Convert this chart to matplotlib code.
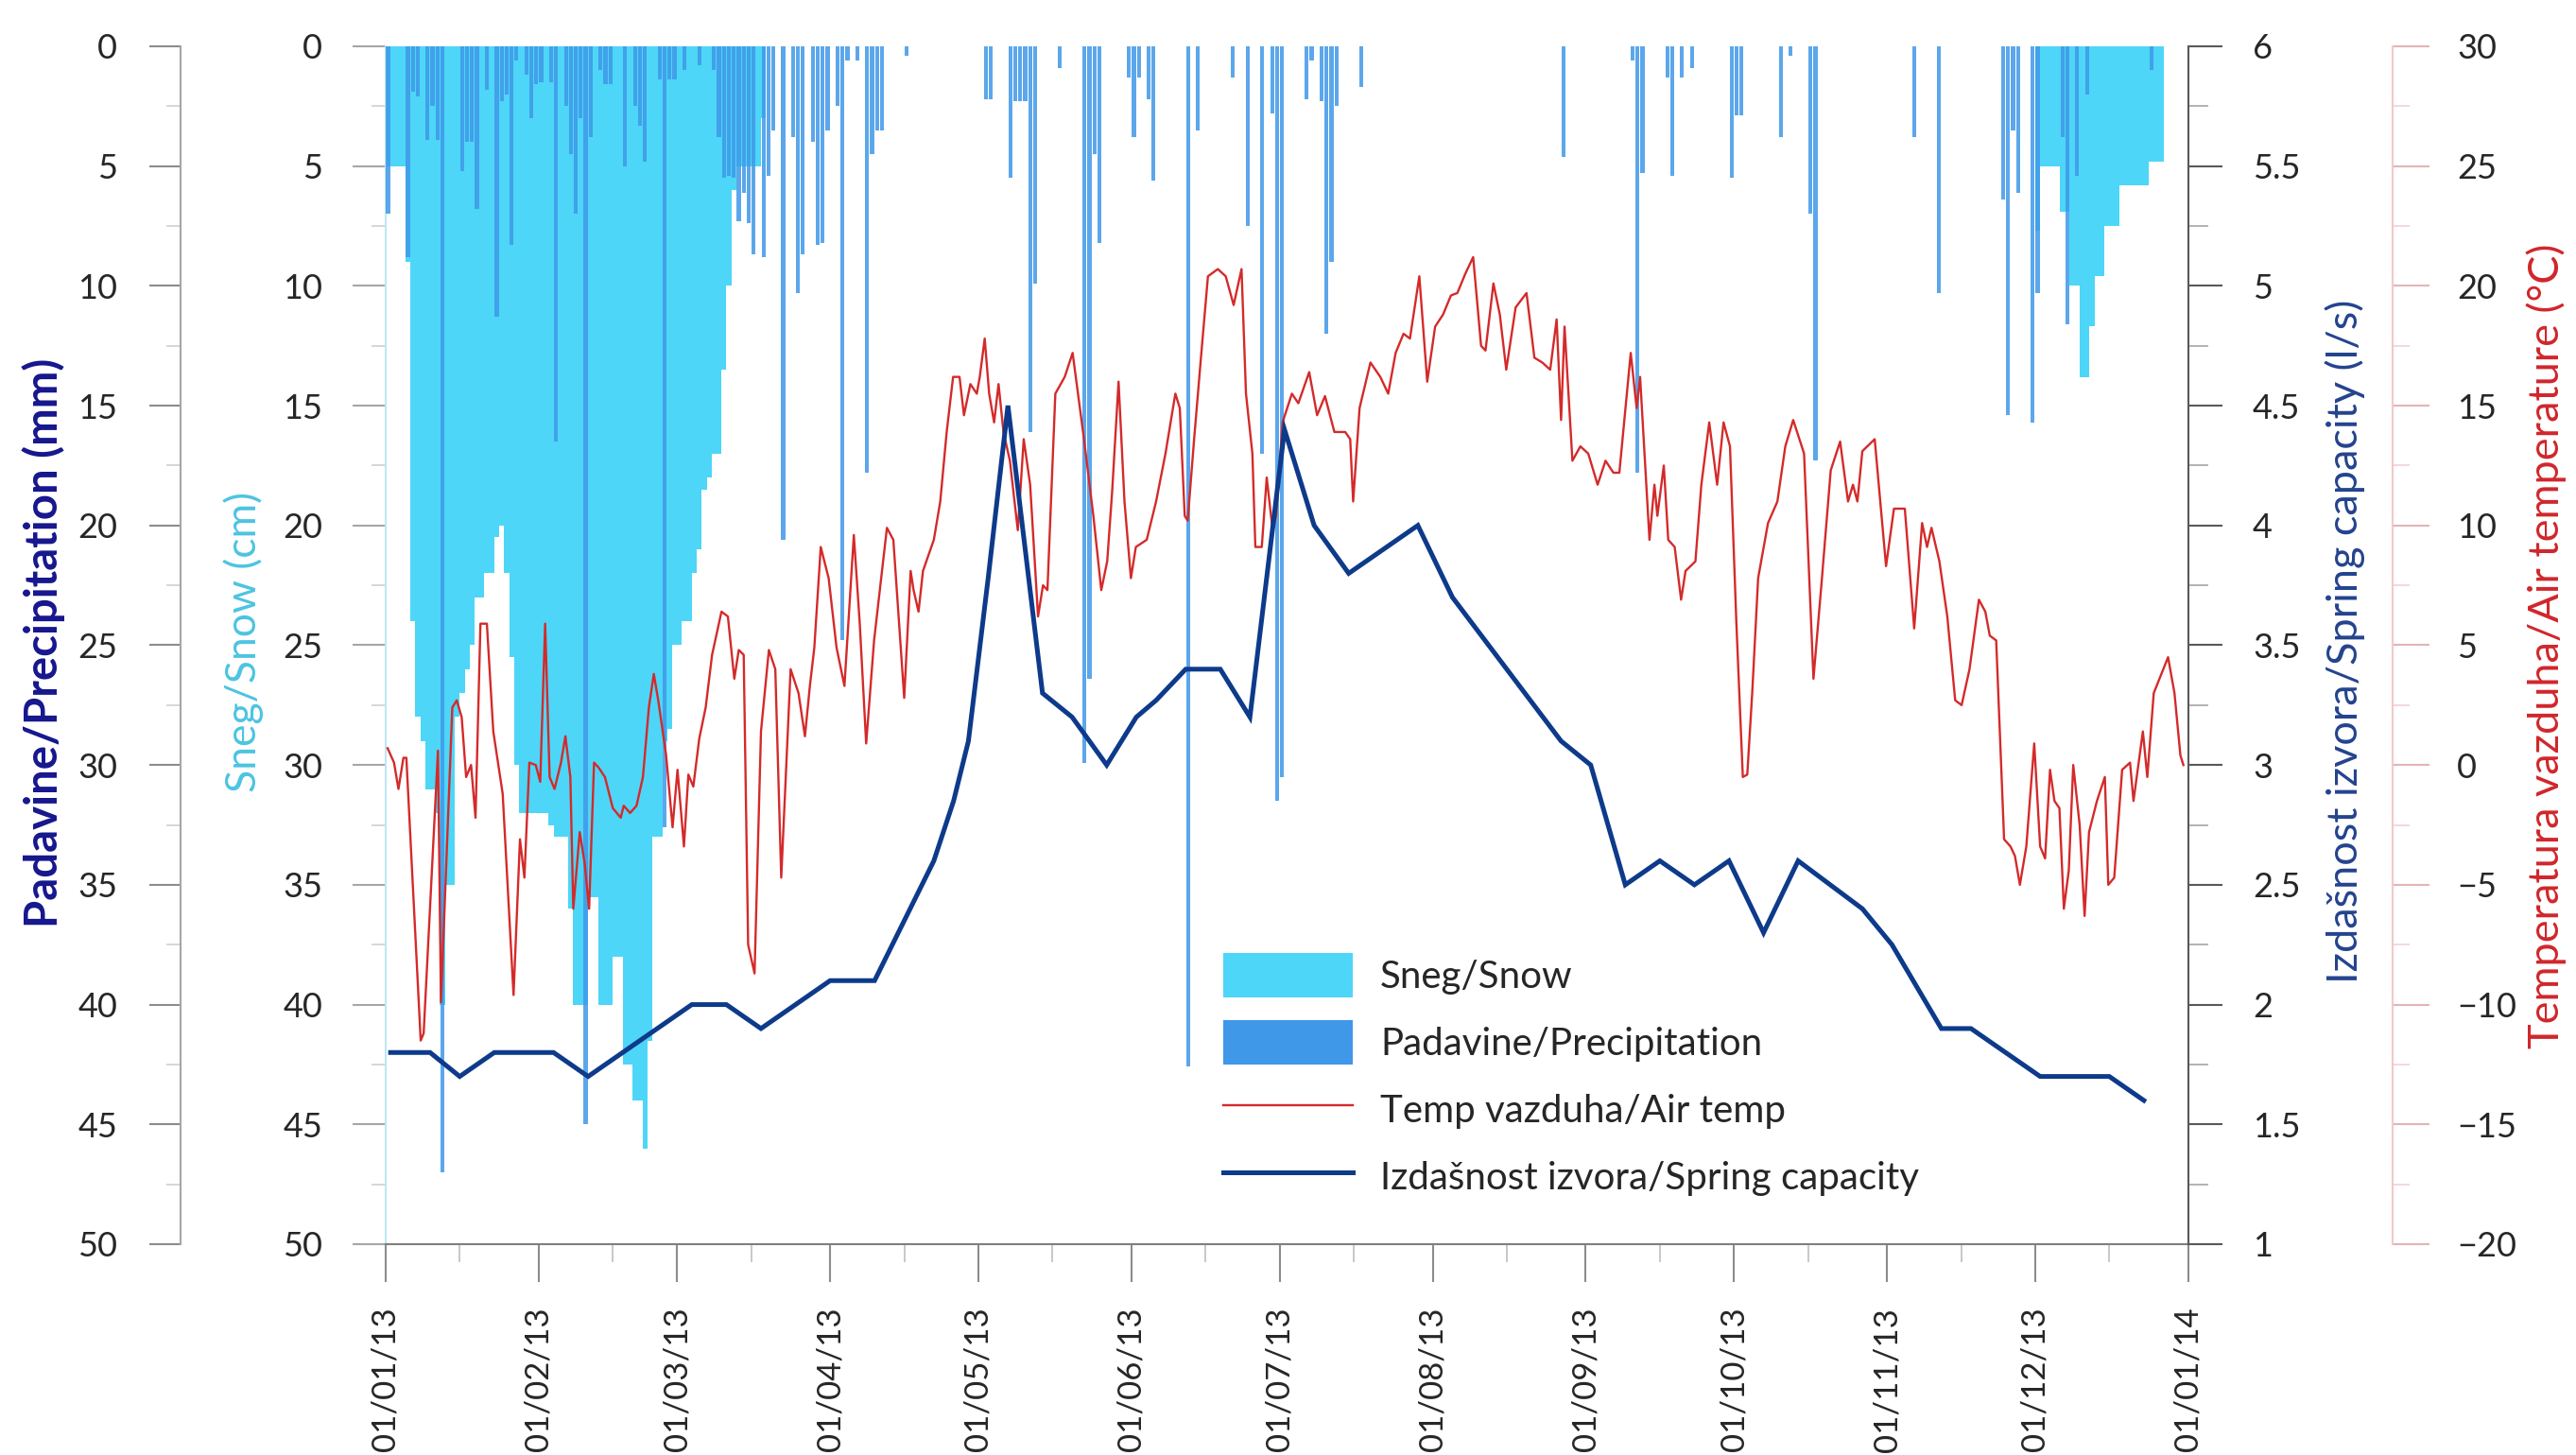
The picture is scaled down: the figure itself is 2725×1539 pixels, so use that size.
import datetime as dt
import matplotlib
matplotlib.use("Agg")
import matplotlib.pyplot as plt
import matplotlib.dates as mdates
from matplotlib.patches import Patch
from matplotlib.lines import Line2D
from matplotlib.ticker import MultipleLocator

plt.rcParams['font.family'] = ['Lato', 'DejaVu Sans']

# ---------------- data (day index 0 = 01/01/2013) ----------------
snow_days = [0, 1, 2, 3, 4, 5, 6, 7, 8, 9, 10, 11, 12, 13, 14, 15, 16, 17, 18, 19,
             20, 21, 22, 23, 24, 25, 26, 27, 28, 29, 30, 31, 32, 33, 34, 35, 36, 37, 38, 39,
             40, 41, 42, 43, 44, 45, 46, 47, 48, 49, 50, 51, 52, 53, 54, 55, 56, 57, 58, 59,
             60, 61, 62, 63, 64, 65, 66, 67, 68, 69, 70, 71, 72, 73, 74, 75, 76,
             334, 335, 336, 337, 338, 339, 340, 341, 342, 343, 344, 345, 346, 347, 348, 349,
             350, 351, 352, 353, 354, 355, 356, 357, 358, 359]
snow_cm = [5, 5, 5, 5, 9, 24, 28, 29, 31, 31, 32, 40, 35, 35, 28, 27, 26, 25, 23, 23,
           22, 22, 20.5, 20, 22, 25.5, 30, 32, 32, 32, 32, 32, 32, 32.5, 33, 33, 33, 36, 40, 40,
           40, 35.5, 35.5, 40, 40, 40, 38, 38, 42.5, 42.5, 44, 44, 46, 41.5, 33, 33, 29, 28.5, 25, 25,
           24, 24, 22, 21, 18.5, 18, 17, 17, 13.5, 10, 6, 5, 5, 5, 5, 5, 3,
           7.7, 5, 5, 5, 5, 6.9, 6.9, 10, 10, 13.8, 13.8, 11.7, 9.6, 9.6, 7.5, 7.5,
           7.5, 5.8, 5.8, 5.8, 5.8, 5.8, 5.8, 4.8, 4.8, 4.8]

precip_days = [0, 4, 5, 6, 8, 9, 10, 11, 15, 16, 17, 18, 20, 22, 23, 24, 25, 26, 28, 29,
               30, 31, 33, 34, 36, 37, 38, 39, 40, 41, 43, 44, 45, 48, 50, 51, 52, 55, 56, 57,
               58, 60, 63, 66, 67, 68, 69, 70, 71, 72, 73, 74, 76, 77, 78, 80, 82, 83, 84, 86,
               87, 88, 89, 91, 92, 93, 95, 97, 98, 99, 100, 105, 121, 122, 126, 127, 128, 129, 130, 131,
               136, 141, 142, 143, 144, 150, 151, 152, 154, 155, 162, 164, 171, 174, 177, 179, 180, 181, 186, 187,
               189, 190, 191, 192, 197, 238, 252, 253, 254, 259, 260, 262, 264, 272, 273, 274, 282, 284, 288, 289,
               309, 314, 327, 328, 329, 330, 333, 334, 339, 340, 342, 344, 357]
precip_mm = [7.0, 8.8, 1.9, 2.1, 3.9, 2.5, 3.9, 47.0, 5.2, 4.0, 4.0, 6.8, 1.8, 11.3, 2.3, 2.0, 8.3, 0.6, 1.2, 3.0,
             1.6, 1.5, 1.5, 16.5, 2.5, 4.5, 7.0, 3.0, 45.0, 3.8, 1.0, 1.6, 1.6, 5.0, 2.5, 3.3, 4.8, 1.4, 32.6, 1.4,
             1.4, 1.0, 0.8, 1.0, 3.8, 5.5, 5.4, 5.5, 7.3, 6.1, 7.4, 8.7, 8.8, 5.4, 3.5, 20.6, 3.8, 10.3, 8.7, 4.0,
             8.3, 8.2, 3.5, 2.5, 24.8, 0.6, 0.6, 17.8, 4.5, 3.5, 3.5, 0.4, 2.2, 2.2, 5.5, 2.3, 2.3, 2.3, 16.1, 9.9,
             0.9, 29.9, 26.4, 4.5, 8.2, 1.3, 3.8, 1.3, 2.2, 5.6, 42.6, 3.5, 1.3, 7.5, 17.0, 2.8, 31.5, 30.5, 2.2, 0.6,
             2.3, 12.0, 9.0, 2.5, 1.7, 4.6, 0.6, 17.8, 5.3, 1.3, 5.4, 1.3, 0.9, 5.5, 2.9, 2.9, 3.8, 0.4, 7.0, 17.3,
             3.8, 10.3, 6.4, 15.4, 3.5, 6.1, 15.7, 10.3, 3.8, 11.6, 5.4, 2.0, 1.0]

temp_days = [0.4, 1.7, 2.6, 3.6, 4.2, 7.1, 7.7, 10.6, 11.2, 13.5, 14.4, 15.4, 16.3, 17.3, 18.2, 19.2,
             20.5, 21.8, 23.7, 25.9, 27.2, 28.1, 29.1, 30.4, 31.3, 32.3, 33.2, 34.2, 35.5, 36.4, 37.4,
             38.0, 39.3, 40.3, 41.2, 42.2, 43.1, 44.4, 46.0, 47.6, 48.2, 49.5, 50.8, 52.1, 53.3, 54.3,
             55.2, 56.8, 58.1, 59.1, 60.4, 61.3, 62.3, 63.5, 64.8, 66.1, 68.0, 69.3, 70.6, 71.5, 72.5,
             73.4, 74.7, 76.0, 77.6, 78.9, 80.1, 82.0, 83.6, 84.9, 85.9, 86.8, 88.1, 89.7, 91.3, 92.9,
             94.8, 96.0, 97.3, 98.9, 101.5, 102.8, 105.0, 106.3, 106.9, 107.9, 108.8, 111.0, 112.3,
             113.6, 114.9, 116.2, 117.1, 118.4, 119.7, 120.3, 121.3, 122.2, 123.2, 124.1, 125.1, 126.4,
             128.0, 129.2, 130.5, 132.1, 133.1, 134.0, 135.6, 137.5, 139.1, 141.4, 143.3, 144.9, 146.1,
             147.1, 148.4, 149.6, 150.9, 151.9, 154.1, 156.0, 157.9, 159.9, 160.8, 161.8, 162.4, 163.7,
             165.0, 166.5, 168.5, 170.1, 171.7, 173.3, 174.2, 175.5, 176.1, 177.4, 178.4, 179.6, 180.3,
             181.6, 183.5, 184.8, 187.0, 188.6, 190.2, 192.1, 194.3, 195.3, 195.9, 197.2, 199.4, 201.4,
             203.0, 204.5, 206.1, 207.4, 209.3, 210.9, 212.5, 214.1, 215.7, 217.0, 218.6, 220.2, 221.8,
             222.7, 224.3, 225.6, 226.9, 228.8, 231.0, 232.6, 234.2, 235.8, 237.1, 238.0, 238.7, 240.3,
             241.9, 243.5, 245.4, 247.0, 248.6, 249.8, 252.1, 253.3, 254.0, 254.9, 255.9, 256.9, 257.5,
             258.8, 259.7, 261.0, 262.3, 263.2, 265.2, 266.4, 268.0, 269.6, 270.9, 272.2, 273.5, 274.8,
             275.7, 276.7, 277.9, 279.9, 281.8, 283.4, 285.0, 287.2, 289.1, 290.7, 292.6, 294.5, 296.1,
             297.1, 298.0, 299.0, 301.5, 303.8, 305.4, 307.6, 309.5, 311.1, 312.1, 313.0, 314.6, 316.2,
             317.8, 319.1, 320.7, 322.6, 323.9, 324.8, 326.1, 327.7, 329.0, 329.9, 330.9, 332.2, 333.8,
             335.0, 336.0, 337.0, 337.9, 338.9, 339.8, 340.8, 341.7, 343.0, 344.0, 344.9, 346.5, 348.1,
             348.8, 350.0, 351.6, 353.2, 353.9, 355.8, 356.7, 358.0, 360.9, 362.2, 363.4, 364.0]
temp_c = [0.7, 0.1, -1.0, 0.3, 0.3, -11.5, -11.2, 0.6, -9.9, 2.4, 2.7, 2.0, -0.5, 0.0, -2.2, 5.9,
          5.9, 1.4, -1.2, -9.6, -3.1, -4.7, 0.1, 0.0, -0.7, 5.9, -0.5, -1.0, 0.1, 1.2, -0.5,
          -6.0, -2.8, -4.1, -6.0, 0.1, -0.1, -0.5, -1.8, -2.2, -1.7, -2.0, -1.7, -0.5, 2.4, 3.8,
          2.7, 0.4, -2.6, -0.2, -3.4, -0.4, -0.9, 1.1, 2.4, 4.6, 6.4, 6.2, 3.6, 4.8, 4.6,
          -7.5, -8.7, 1.4, 4.8, 4.0, -4.7, 4.0, 3.0, 1.2, 3.3, 4.9, 9.1, 7.8, 4.9, 3.3,
          9.6, 5.9, 0.9, 5.2, 9.9, 9.4, 2.8, 8.1, 7.3, 6.4, 8.1, 9.4, 11.0,
          13.9, 16.2, 16.2, 14.6, 15.9, 15.5, 16.2, 17.8, 15.5, 14.3, 15.9, 13.9, 12.7,
          9.8, 13.6, 11.7, 6.2, 7.5, 7.3, 15.5, 16.2, 17.2, 13.6, 10.4, 7.3, 8.5,
          11.4, 16.0, 11.0, 7.8, 9.1, 9.4, 11.0, 13.0, 15.5, 14.9, 10.4, 10.2, 13.6,
          16.8, 20.4, 20.7, 20.4, 19.2, 20.7, 15.5, 13.0, 9.1, 9.1, 12.0, 9.8, 10.4,
          14.3, 15.5, 15.1, 16.4, 14.6, 15.4, 13.9, 13.9, 13.6, 11.0, 14.9, 16.8, 16.2,
          15.5, 17.2, 18.0, 17.8, 20.4, 16.0, 18.3, 18.8, 19.6, 19.7, 20.5, 21.2, 17.5,
          17.3, 20.1, 18.8, 16.5, 19.1, 19.7, 17.0, 16.8, 16.5, 18.6, 14.4, 18.3, 12.7,
          13.3, 13.0, 11.7, 12.7, 12.2, 12.2, 17.2, 14.9, 16.2, 13.0, 9.4, 11.7, 10.4,
          12.5, 9.4, 9.1, 6.9, 8.1, 8.5, 11.7, 14.3, 11.7, 14.3, 13.3, 5.9, -0.5,
          -0.4, 3.0, 7.8, 10.1, 11.0, 13.3, 14.4, 13.0, 3.6, 7.5, 12.3, 13.5, 11.0,
          11.7, 11.0, 13.1, 13.6, 8.3, 10.7, 10.7, 5.7, 10.1, 9.1, 9.9, 8.5, 6.2,
          2.7, 2.5, 4.0, 6.9, 6.4, 5.4, 5.2, -3.1, -3.4, -3.8, -5.0, -3.4, 0.9,
          -3.4, -3.9, -0.2, -1.5, -1.8, -6.0, -4.4, 0.0, -2.5, -6.3, -2.8, -1.5, -0.5,
          -5.0, -4.7, -0.2, 0.1, -1.5, 1.4, -0.5, 3.0, 4.5, 3.0, 0.4, 0.0]

cap_days = [1, 9, 15, 22, 34, 41, 62, 69, 76, 90, 99, 105, 111, 115, 118, 122, 126, 133, 139,
            146, 152, 156, 162, 169, 175, 182, 188, 195, 209, 216, 238, 244, 251, 258, 265, 272,
            279, 286, 299, 305, 315, 321, 335, 349, 356]
cap_ls = [1.8, 1.8, 1.7, 1.8, 1.8, 1.7, 2.0, 2.0, 1.9, 2.1, 2.1, 2.35, 2.6, 2.85, 3.1, 3.78, 4.5, 3.3, 3.2,
          3.0, 3.2, 3.27, 3.4, 3.4, 3.2, 4.4, 4.0, 3.8, 4.0, 3.7, 3.1, 3.0, 2.5, 2.6, 2.5, 2.6,
          2.3, 2.6, 2.4, 2.25, 1.9, 1.9, 1.7, 1.7, 1.6]

legend_labels = ['Sneg/Snow', 'Padavine/Precipitation', 'Temp vazduha/Air temp',
                 'Izdašnost izvora/Spring capacity']
ylabel_precip = 'Padavine/Precipitation (mm)'
ylabel_snow = 'Sneg/Snow (cm)'
ylabel_cap = 'Izdašnost izvora/Spring capacity (l/s)'
ylabel_temp = 'Temperatura vazduha/Air temperature (°C)'

# ---------------- helpers ----------------
START = dt.datetime(2013, 1, 1)


def to_dates(days):
    return [START + dt.timedelta(days=float(d)) for d in days]


C_SNOW = '#4DD6F7'
C_PREC = '#3F98E8'
C_TEMP = '#D42A2A'
C_CAP = '#0D3A8A'
TXT = '#262626'

fig = plt.figure(figsize=(27.25, 15.39), dpi=100)
ax = fig.add_axes([0.1497, 0.1449, 0.6998, 0.8233])
ax_p = ax.twinx()
ax_t = ax.twinx()
ax_c = ax.twinx()

# snow bars
ax.bar(to_dates(snow_days), snow_cm, width=1.0, align='edge', color=C_SNOW, linewidth=0, zorder=2)
ax.set_ylim(50, 0)
ax.set_xlim(START, dt.datetime(2014, 1, 1))

# precipitation bars
ax_p.bar(to_dates([d + 0.1 for d in precip_days]), precip_mm, width=0.8, align='edge',
         color=C_PREC, alpha=0.85, linewidth=0)
ax_p.set_ylim(50, 0)

# temperature
ax_t.plot(to_dates(temp_days), temp_c, color=C_TEMP, lw=1.7)
ax_t.set_ylim(-20, 30)

# spring capacity
ax_c.plot(to_dates(cap_days), cap_ls, color=C_CAP, lw=3.6, solid_joinstyle='miter')
ax_c.set_ylim(1, 6)

# ---------------- axes styling ----------------
for a in (ax, ax_p, ax_t, ax_c):
    a.spines['top'].set_visible(False)
    a.patch.set_visible(False)

YTS = 26

# main (snow) axis
ax.spines['right'].set_visible(False)
ax.spines['left'].set_color('#BFE7F3')
ax.spines['left'].set_linewidth(1.5)
ax.spines['bottom'].set_color('#7F7F7F')
ax.spines['bottom'].set_linewidth(1.5)
ax.yaxis.set_major_locator(MultipleLocator(5))
ax.yaxis.set_minor_locator(MultipleLocator(2.5))
ax.tick_params(axis='y', which='major', direction='out', length=25, width=1.5, color='#A6A6A6',
               labelsize=YTS, labelcolor=TXT, pad=23)
ax.tick_params(axis='y', which='minor', direction='out', length=11, width=1.2, color='#D0D0D0')

ax.xaxis.set_major_locator(mdates.MonthLocator())
ax.xaxis.set_minor_locator(mdates.MonthLocator(bymonthday=16))
ax.xaxis.set_major_formatter(mdates.DateFormatter('%d/%m/%y'))
ax.tick_params(axis='x', which='major', direction='out', length=29, width=1.5, color='#8C8C8C',
               labelsize=25, labelcolor=TXT, pad=19, labelrotation=90)
ax.tick_params(axis='x', which='minor', direction='out', length=14, width=1.2, color='#BFBFBF')

# precipitation axis (far left)
ax_p.spines['right'].set_visible(False)
ax_p.spines['bottom'].set_visible(False)
ax_p.spines['left'].set_visible(True)
ax_p.spines['left'].set_position(('axes', -0.1138))
ax_p.spines['left'].set_color('#A6A6A6')
ax_p.spines['left'].set_linewidth(1.5)
ax_p.yaxis.tick_left()
ax_p.yaxis.set_major_locator(MultipleLocator(5))
ax_p.yaxis.set_minor_locator(MultipleLocator(2.5))
ax_p.tick_params(axis='y', which='major', direction='out', length=24, width=1.5, color='#8C8C8C',
                 labelsize=YTS, labelcolor=TXT, pad=24)
ax_p.tick_params(axis='y', which='minor', direction='out', length=11, width=1.2, color='#D0D0D0')

# capacity axis (right spine)
ax_c.spines['left'].set_visible(False)
ax_c.spines['bottom'].set_visible(False)
ax_c.spines['right'].set_color('#595959')
ax_c.spines['right'].set_linewidth(1.5)
ax_c.yaxis.set_major_locator(MultipleLocator(0.5))
ax_c.yaxis.set_minor_locator(MultipleLocator(0.25))
ax_c.yaxis.set_major_formatter(plt.FuncFormatter(lambda v, p: f'{v:g}'))
ax_c.tick_params(axis='y', which='major', direction='out', length=26, width=1.5, color='#595959',
                 labelsize=YTS, labelcolor=TXT, pad=23)
ax_c.tick_params(axis='y', which='minor', direction='out', length=15, width=1.2, color='#A6A6A6')

# temperature axis (far right)
ax_t.spines['left'].set_visible(False)
ax_t.spines['bottom'].set_visible(False)
ax_t.spines['right'].set_position(('axes', 1.1133))
ax_t.spines['right'].set_color('#F2C9C9')
ax_t.spines['right'].set_linewidth(1.5)
ax_t.yaxis.set_major_locator(MultipleLocator(5))
ax_t.yaxis.set_minor_locator(MultipleLocator(2.5))
ax_t.tick_params(axis='y', which='major', direction='out', length=28, width=1.5, color='#E3B5B5',
                 labelsize=YTS, labelcolor=TXT, pad=21)
ax_t.tick_params(axis='y', which='minor', direction='out', length=13, width=1.2, color='#EFD3D3')

# axis titles
fig.text(0.0168, 0.558, ylabel_precip, rotation=90, ha='center', va='center',
         fontsize=34, fontweight='bold', color='#16168E')
fig.text(0.0946, 0.559, ylabel_snow, rotation=90, ha='center', va='center',
         fontsize=32, color='#4CC4E0')
fig.text(0.9102, 0.5595, ylabel_cap, rotation=90, ha='center', va='center',
         fontsize=32.5, color='#24438E')
fig.text(0.9884, 0.556, ylabel_temp, rotation=90, ha='center', va='center',
         fontsize=32.5, color='#D0262B')

# legend
handles = [Patch(facecolor=C_SNOW, edgecolor='none'),
           Patch(facecolor=C_PREC, edgecolor='none'),
           Line2D([], [], color=C_TEMP, lw=1.7),
           Line2D([], [], color=C_CAP, lw=3.6)]
leg = ax_c.legend(handles, legend_labels, loc='upper left', bbox_to_anchor=(0.475, 0.345),
                  bbox_transform=fig.transFigure, frameon=False, fontsize=29,
                  handlelength=3.38, handleheight=1.415, handletextpad=0.73, labelspacing=0.60,
                  borderpad=0, borderaxespad=0)
for t in leg.get_texts():
    t.set_color(TXT)

fig.savefig('out.png', dpi=100)
